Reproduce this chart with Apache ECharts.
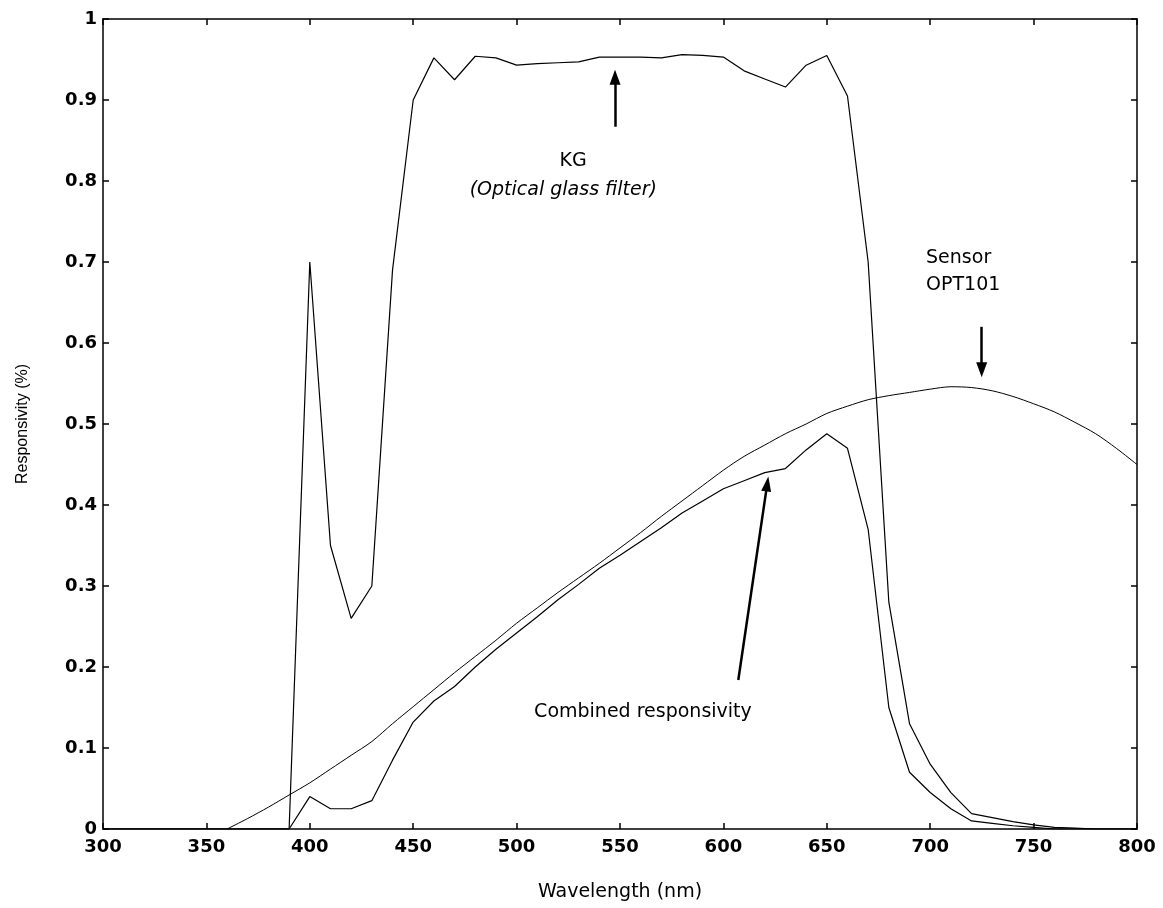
<!DOCTYPE html>
<html>
<head>
<meta charset="utf-8">
<title>Responsivity</title>
<script src="https://cdn.jsdelivr.net/npm/echarts@6/dist/echarts.min.js"></script>
<style>
  html, body { margin: 0; padding: 0; background: #fff; }
  #chart { width: 1163px; height: 908px; }
</style>
</head>
<body>
<div id="chart"></div>
<script>
// axis ticks
var xTicks = [300, 350, 400, 450, 500, 550, 600, 650, 700, 750, 800]
var yTicks = [0, 0.1, 0.2, 0.3, 0.4, 0.5, 0.6, 0.7, 0.8, 0.9, 1]

// KG optical glass filter
var kgX = [300, 390, 400, 410, 420, 430, 440, 450, 460, 470, 480, 490, 500, 510, 520, 530, 540, 550, 560, 570, 580, 590,
  600, 610, 620, 630, 640, 650, 660, 670, 680, 690, 700, 710, 720, 730, 740, 750, 760, 770, 780, 790, 800]
var kgY = [0, 0, 0.70, 0.35, 0.26, 0.30, 0.69, 0.90, 0.952, 0.925, 0.954, 0.952, 0.943, 0.945, 0.946, 0.947, 0.953, 0.953, 0.953, 0.952, 0.956, 0.955,
  0.953, 0.936, 0.926, 0.916, 0.943, 0.955, 0.905, 0.70, 0.28, 0.13, 0.08, 0.045, 0.019, 0.014, 0.009, 0.005, 0.002, 0.001, 0, 0, 0]

// sensor OPT101
var sensorX = [360, 370, 380, 390, 400, 410, 420, 430, 440, 450, 460, 470, 480, 490, 500, 510, 520, 530, 540, 550, 560, 570, 580, 590,
  600, 610, 620, 630, 640, 650, 660, 670, 680, 690, 700, 710, 720, 730, 740, 750, 760, 770, 780, 790, 800]
var sensorY = [0, 0.013, 0.027, 0.042, 0.057, 0.074, 0.091, 0.108, 0.13, 0.151, 0.172, 0.193, 0.213, 0.233, 0.254, 0.273, 0.292, 0.31, 0.328, 0.347, 0.366, 0.386, 0.405, 0.424,
  0.443, 0.46, 0.474, 0.488, 0.50, 0.513, 0.522, 0.53, 0.535, 0.539, 0.543, 0.546, 0.545, 0.541, 0.534, 0.525, 0.515, 0.502, 0.488, 0.47, 0.45]

// combined responsivity
var combX = [300, 390, 400, 410, 420, 430, 440, 450, 460, 470, 480, 490, 500, 510, 520, 530, 540, 550, 560, 570, 580, 590,
  600, 610, 620, 630, 640, 650, 660, 670, 680, 690, 700, 710, 720, 730, 740, 750, 760, 770, 780, 790, 800]
var combY = [0, 0, 0.04, 0.025, 0.025, 0.035, 0.085, 0.132, 0.158, 0.176, 0.20, 0.222, 0.242, 0.262, 0.283, 0.302, 0.322, 0.338, 0.355, 0.372, 0.39, 0.405,
  0.42, 0.43, 0.44, 0.445, 0.468, 0.488, 0.47, 0.37, 0.15, 0.07, 0.045, 0.025, 0.01, 0.007, 0.004, 0.002, 0, 0, 0, 0, 0]

function pairs(xs, ys) {
  return xs.map(function (x, i) { return [x, ys[i]] })
}

var tickFont = { fontFamily: 'DejaVu Sans', fontSize: 18, fontWeight: 'bold', color: '#000' }
var noteFont = { fontFamily: 'DejaVu Sans', fontSize: 19, color: '#000' }

function frameAxis(pos, ticks, showLabel) {
  return {
    type: 'value',
    position: pos,
    min: ticks[0],
    max: ticks[ticks.length - 1],
    interval: ticks[1] - ticks[0],
    axisLine: { show: true, onZero: false, lineStyle: { color: '#000', width: 1.5 } },
    axisTick: { show: true, inside: true, length: 6, lineStyle: { color: '#000', width: 1.5 } },
    axisLabel: Object.assign({ show: showLabel, margin: pos === 'left' ? 6 : 9 }, tickFont),
    splitLine: { show: false }
  }
}

function arrow(from, to) {
  return [{ coord: from }, { coord: to }]
}

function note(text, coord, align, italic) {
  return {
    coord: coord,
    symbolSize: 0,
    label: Object.assign({
      show: true, position: 'inside', formatter: text, align: align || 'center',
      fontStyle: italic ? 'italic' : 'normal'
    }, noteFont)
  }
}

var chart = echarts.init(document.getElementById('chart'))

var xBottom = frameAxis('bottom', xTicks, true)
xBottom.name = 'Wavelength (nm)'
xBottom.nameLocation = 'middle'
xBottom.nameGap = 54
xBottom.nameTextStyle = { fontFamily: 'DejaVu Sans', fontSize: 19, color: '#000' }

var yLeft = frameAxis('left', yTicks, true)
yLeft.name = 'Responsivity (%)'
yLeft.nameLocation = 'middle'
yLeft.nameGap = 72
yLeft.nameTextStyle = { fontFamily: 'Liberation Sans', fontSize: 16, color: '#000' }

var arrowStyle = { color: '#000', width: 2.5, type: 'solid' }

chart.setOption({
  animation: false,
  backgroundColor: '#fff',
  grid: { left: 103, right: 26, top: 19, bottom: 79 },
  xAxis: [xBottom, frameAxis('top', xTicks, false)],
  yAxis: [yLeft, frameAxis('right', yTicks, false)],
  series: [
    {
      name: 'KG',
      type: 'line',
      data: pairs(kgX, kgY),
      showSymbol: false,
      lineStyle: { color: '#000', width: 1.2 },
      markLine: {
        silent: true,
        symbol: ['none', 'triangle'],
        symbolSize: [11, 15],
        label: { show: false },
        lineStyle: arrowStyle,
        data: [arrow([547.6, 0.867], [547.6, 0.928])]
      },
      markPoint: {
        silent: true,
        data: [
          note('KG', [527.3, 0.824]),
          note('(Optical glass filter)', [522.6, 0.789], 'center', true)
        ]
      }
    },
    {
      name: 'Sensor OPT101',
      type: 'line',
      data: pairs(sensorX, sensorY),
      showSymbol: false,
      smooth: 0.3,
      lineStyle: { color: '#000', width: 1 },
      markLine: {
        silent: true,
        symbol: ['none', 'triangle'],
        symbolSize: [11, 15],
        label: { show: false },
        lineStyle: arrowStyle,
        data: [arrow([724.9, 0.620], [724.9, 0.567])]
      },
      markPoint: {
        silent: true,
        data: [
          note('Sensor', [698, 0.705], 'left'),
          note('OPT101', [698, 0.672], 'left')
        ]
      }
    },
    {
      name: 'Combined responsivity',
      type: 'line',
      data: pairs(combX, combY),
      showSymbol: false,
      lineStyle: { color: '#000', width: 1.2 },
      markLine: {
        silent: true,
        symbol: ['none', 'triangle'],
        symbolSize: [10, 15],
        label: { show: false },
        lineStyle: arrowStyle,
        data: [arrow([607.2, 0.184], [621.2, 0.426])]
      },
      markPoint: {
        silent: true,
        data: [note('Combined responsivity', [561.1, 0.144])]
      }
    }
  ]
})
</script>
</body>
</html>
